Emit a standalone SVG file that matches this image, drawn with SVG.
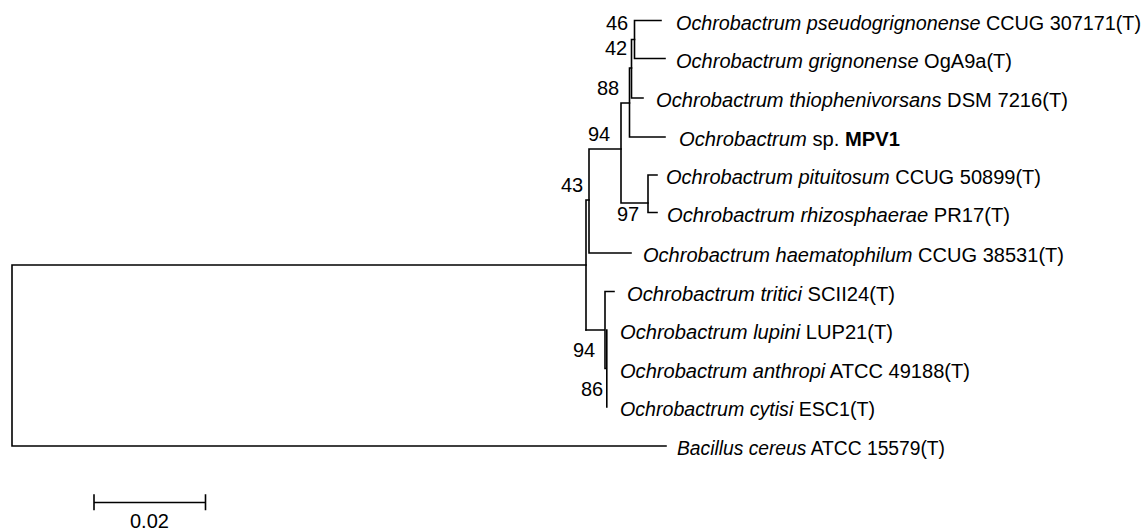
<svg xmlns="http://www.w3.org/2000/svg" width="1148" height="530" viewBox="0 0 1148 530">
<style>
.br{fill:none;stroke:#000;stroke-width:1.6;stroke-linecap:square}
.tx{font-family:"Liberation Sans",Arial,sans-serif;font-size:20px;fill:#000}
.i{font-style:italic}
.b{font-weight:bold}
.bs{font-family:"Liberation Sans",Arial,sans-serif;font-size:20px;fill:#000}
</style>
<rect width="1148" height="530" fill="#fff"/>
<g id="connectors" class="br">
<path d="M12,265 V446 M12,265 H586 M12,446 H666"/>
<path d="M586,200 V330 M586,200 H589"/>
<path d="M589,149 V253 M589,253 H631 M589,149 H621"/>
<path d="M621,103 V203 M621,103 H629.5 M621,203 H648"/>
<path d="M648,175 V212.5 M648,175 H657 M648,212.5 H657"/>
<path d="M629.5,68 V137 M629.5,137 H665 M629.5,68 H631.5"/>
<path d="M631.5,39.5 V98 M631.5,98 H643 M631.5,39.5 H634.5"/>
<path d="M634.5,20.5 V58.5 M634.5,20.5 H661 M634.5,58.5 H665"/>
<path d="M586,330 H605 M605,291.5 V368.5 M605,291.5 H614 M605,368.5 H606.8 M606.8,330 V407"/>
</g>
<g id="scale">
<path class="br" d="M94,502.5 H205.5 M94,495 V509.5 M205.5,495 V509.5"/>
<text class="bs" x="130" y="528">0.02</text>
</g>
<g id="bootstrap">
<text class="bs" x="606" y="30">46</text>
<text class="bs" x="605" y="55">42</text>
<text class="bs" x="597" y="95">88</text>
<text class="bs" x="588" y="141">94</text>
<text class="bs" x="561" y="192">43</text>
<text class="bs" x="617" y="221">97</text>
<text class="bs" x="573" y="357">94</text>
<text class="bs" x="581" y="396">86</text>
</g>
<g id="n1"><text class="tx" x="676" y="29.5" textLength="465" lengthAdjust="spacingAndGlyphs"><tspan class="i">Ochrobactrum pseudogrignonense</tspan> CCUG 307171(T)</text></g>
<g id="n2"><text class="tx" x="676" y="67.5" textLength="336" lengthAdjust="spacingAndGlyphs"><tspan class="i">Ochrobactrum grignonense</tspan> OgA9a(T)</text></g>
<g id="n3"><text class="tx" x="656" y="107" textLength="412" lengthAdjust="spacingAndGlyphs"><tspan class="i">Ochrobactrum thiophenivorsans</tspan> DSM 7216(T)</text></g>
<g id="n4"><text class="tx" x="679" y="146" textLength="221" lengthAdjust="spacingAndGlyphs"><tspan class="i">Ochrobactrum</tspan> sp. <tspan class="b">MPV1</tspan></text></g>
<g id="n5"><text class="tx" x="666" y="184" textLength="375" lengthAdjust="spacingAndGlyphs"><tspan class="i">Ochrobactrum pituitosum</tspan> CCUG 50899(T)</text></g>
<g id="n6"><text class="tx" x="667" y="221.5" textLength="343" lengthAdjust="spacingAndGlyphs"><tspan class="i">Ochrobactrum rhizosphaerae</tspan> PR17(T)</text></g>
<g id="n7"><text class="tx" x="643" y="262" textLength="421" lengthAdjust="spacingAndGlyphs"><tspan class="i">Ochrobactrum haematophilum</tspan> CCUG 38531(T)</text></g>
<g id="n8"><text class="tx" x="627" y="300.5" textLength="268" lengthAdjust="spacingAndGlyphs"><tspan class="i">Ochrobactrum tritici</tspan> SCII24(T)</text></g>
<g id="n9"><text class="tx" x="620" y="339" textLength="273" lengthAdjust="spacingAndGlyphs"><tspan class="i">Ochrobactrum lupini</tspan> LUP21(T)</text></g>
<g id="n10"><text class="tx" x="620" y="377.5" textLength="350" lengthAdjust="spacingAndGlyphs"><tspan class="i">Ochrobactrum anthropi</tspan> ATCC 49188(T)</text></g>
<g id="n11"><text class="tx" x="620" y="416" textLength="255" lengthAdjust="spacingAndGlyphs"><tspan class="i">Ochrobactrum cytisi</tspan> ESC1(T)</text></g>
<g id="n12"><text class="tx" x="677" y="455" textLength="268" lengthAdjust="spacingAndGlyphs"><tspan class="i">Bacillus cereus</tspan> ATCC 15579(T)</text></g>
</svg>
